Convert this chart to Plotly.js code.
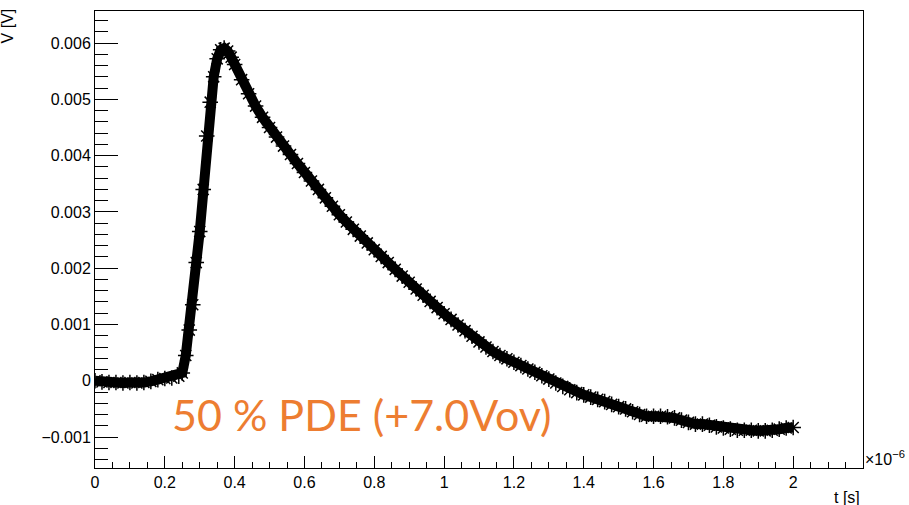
<!DOCTYPE html>
<html>
<head>
<meta charset="utf-8">
<script src="https://cdn.plot.ly/plotly-3.0.1.min.js"></script>
<style>html,body{margin:0;padding:0;background:#fff;}#chart{width:909px;height:505px;}</style>
</head>
<body>
<div id="chart"></div>
<script>
// time in units of 1e-6 s
const tMicro = [
  0.00, 0.02, 0.04, 0.06, 0.08, 0.10, 0.12, 0.14, 0.16, 0.18, 0.20, 0.22, 0.24,
  0.25, 0.26, 0.27, 0.28, 0.29, 0.30, 0.31, 0.32, 0.33, 0.34, 0.35, 0.36, 0.37, 0.38, 0.39,
  0.40, 0.42, 0.44, 0.46, 0.48, 0.50, 0.52, 0.54, 0.56, 0.58, 0.60, 0.62, 0.64, 0.66, 0.68,
  0.70, 0.72, 0.74, 0.76, 0.78, 0.80, 0.82, 0.84, 0.86, 0.88, 0.90, 0.92, 0.94, 0.96, 0.98,
  1.00, 1.02, 1.04, 1.06, 1.08, 1.10, 1.12, 1.14, 1.16, 1.18, 1.20, 1.22, 1.24, 1.26, 1.28,
  1.30, 1.32, 1.34, 1.36, 1.38, 1.40, 1.42, 1.44, 1.46, 1.48, 1.50, 1.52, 1.54, 1.56, 1.58,
  1.60, 1.62, 1.64, 1.66, 1.68, 1.70, 1.72, 1.74, 1.76, 1.78, 1.80, 1.82, 1.84, 1.86, 1.88,
  1.90, 1.92, 1.94, 1.96, 1.98, 2.00
];
// voltage in V
const voltage = [
  0.00000, -0.00002, -0.00003, -0.00003, -0.00004, -0.00003, -0.00004, -0.00003, -0.00001, 0.00002, 0.00004, 0.00005, 0.00008,
  0.00014, 0.00045, 0.00090, 0.00135, 0.00210, 0.00265, 0.00340, 0.00435, 0.00495, 0.00540, 0.00572, 0.00588, 0.00591, 0.00586, 0.00575,
  0.00562, 0.00535, 0.00510, 0.00488, 0.00468, 0.00450, 0.00433, 0.00417, 0.00402, 0.00386, 0.00370, 0.00355, 0.00340, 0.00325, 0.00310,
  0.00295, 0.00282, 0.00269, 0.00257, 0.00245, 0.00233, 0.00221, 0.00210, 0.00198, 0.00186, 0.00175, 0.00163, 0.00152, 0.00141, 0.00130,
  0.00119, 0.00109, 0.00099, 0.00089, 0.00079, 0.00069, 0.00060, 0.00052, 0.00045, 0.00039, 0.00033, 0.00027, 0.00021, 0.00015, 0.00009,
  0.00003, -0.00004, -0.00010, -0.00016, -0.00021, -0.00025, -0.00029, -0.00033, -0.00037, -0.00042, -0.00046, -0.00050, -0.00055, -0.00060, -0.00063,
  -0.00063, -0.00063, -0.00064, -0.00066, -0.00070, -0.00074, -0.00077, -0.00077, -0.00079, -0.00082, -0.00084, -0.00086, -0.00088, -0.00088, -0.00088,
  -0.00089, -0.00089, -0.00088, -0.00086, -0.00084, -0.00083
];
const xTickVals = [0, 0.2, 0.4, 0.6, 0.8, 1, 1.2, 1.4, 1.6, 1.8, 2];
const xTitle = "t [s]";
const yTitle = "V [V]";
const xExponent = "×10<sup>−6</sup>";
const labelText = "50 % PDE (+7.0Vov)";

const traces = [
  {
    x: tMicro, y: voltage, type: "scatter", mode: "lines",
    line: {color: "#000", width: 10}, hoverinfo: "skip", showlegend: false
  },
  {
    x: tMicro, y: voltage, type: "scatter", mode: "markers",
    marker: {symbol: "asterisk-open", size: 13, color: "#000", line: {color: "#000", width: 1.5}},
    showlegend: false
  }
];

const tickFont = {family: "Liberation Sans, Arial, sans-serif", size: 16, color: "#000"};
const titleFont = {family: "Liberation Sans, Arial, sans-serif", size: 16, color: "#000"};

const layout = {
  width: 909, height: 505,
  margin: {l: 95, r: 46, t: 11, b: 37},
  paper_bgcolor: "#fff", plot_bgcolor: "#fff",
  showlegend: false,
  xaxis: {
    range: [0, 2.2], tickmode: "array", tickvals: xTickVals,
    ticks: "inside", ticklen: 12, tickwidth: 1, tickcolor: "#000",
    minor: {dtick: 0.05, tick0: 0, ticks: "inside", ticklen: 6, tickwidth: 1, tickcolor: "#000"},
    showline: true, linecolor: "#000", linewidth: 1, mirror: true,
    showgrid: false, zeroline: false, tickfont: tickFont
  },
  yaxis: {
    range: [-0.00155, 0.00657], dtick: 0.001, tick0: 0,
    ticks: "inside", ticklen: 23, tickwidth: 1, tickcolor: "#000",
    minor: {dtick: 0.0002, ticks: "inside", ticklen: 13, tickwidth: 1, tickcolor: "#000"},
    showline: true, linecolor: "#000", linewidth: 1, mirror: true,
    showgrid: false, zeroline: false, tickfont: tickFont
  },
  annotations: [
    {text: yTitle, xref: "paper", yref: "paper", x: -0.114, y: 1.01, xanchor: "center", yanchor: "top",
     textangle: -90, showarrow: false, font: titleFont},
    {text: xTitle, xref: "paper", yref: "paper", x: 0.999, y: -0.042, xanchor: "right", yanchor: "top",
     showarrow: false, font: titleFont},
    {text: xExponent, xref: "paper", yref: "paper", x: 1.0, y: -0.005, xanchor: "left", yanchor: "bottom",
     showarrow: false, font: titleFont},
    {text: labelText, xref: "paper", yref: "paper", x: 0.0977, y: 0.116, xanchor: "left", yanchor: "middle",
     showarrow: false, font: {family: "Lato, Noto Sans, sans-serif", size: 43, color: "#ED7D31"}}
  ]
};

Plotly.newPlot("chart", traces, layout, {displayModeBar: false, staticPlot: true});
</script>
</body>
</html>
